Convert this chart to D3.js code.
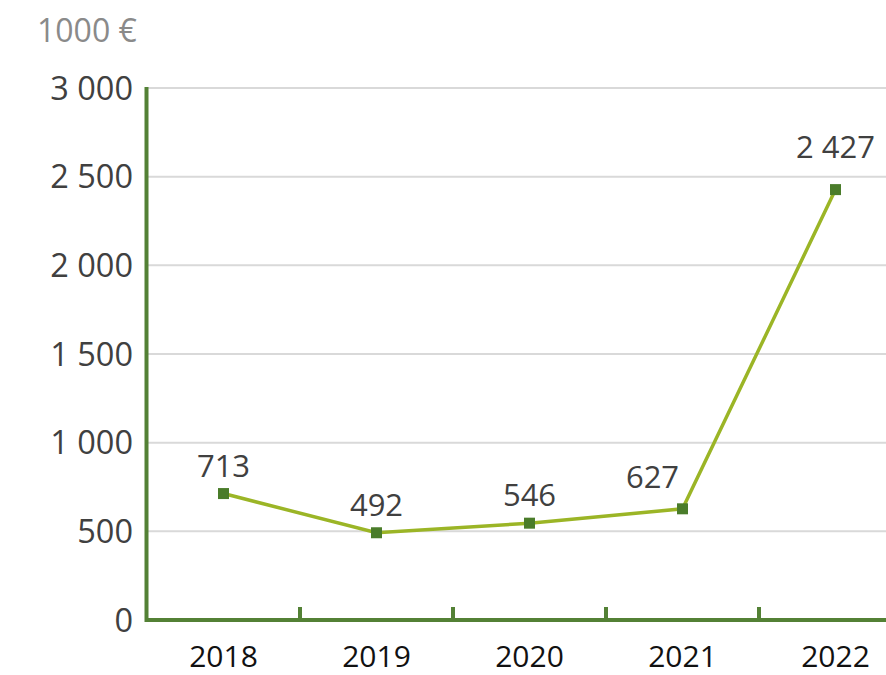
<!DOCTYPE html>
<html>
<head>
<meta charset="utf-8">
<script src="https://cdn.jsdelivr.net/npm/d3@7/dist/d3.min.js"></script>
<style>
  body { margin: 0; background: #fff; }
  text { font-family: "Open Sans", "Noto Sans", sans-serif; }
</style>
</head>
<body>
<div class="chart"></div>
<script>
// data
var years = ["2018", "2019", "2020", "2021", "2022"];
var values = [713, 492, 546, 627, 2427];
var yTicks = [0, 500, 1000, 1500, 2000, 2500, 3000];
var unitLabel = "1000 €";

// label nudges (px) so labels clear the line
var labelDx = [0, 0, 0, -30, 0];
var labelDy = [-17, -17, -17, -21, -32];

var W = 886, H = 675;
var fmt = function(v) { return d3.format(",")(v).replace(/,/g, " "); };

var svg = d3.select(".chart").append("svg")
            .attr("width", W)
            .attr("height", H);

var y = d3.scaleLinear().domain([0, 3000]).range([620, 88]);
var x = d3.scaleBand().domain(years).range([147, 912]);

// gridlines
svg.selectAll(".grid")
   .data(yTicks.filter(function(d) { return d > 0; }))
   .enter()
   .append("line")
   .attr("x1", 147).attr("x2", W)
   .attr("y1", function(d) { return y(d); })
   .attr("y2", function(d) { return y(d); })
   .attr("stroke", "#d9d9d9")
   .attr("stroke-width", 2);

// y labels
svg.selectAll(".ylab")
   .data(yTicks)
   .enter()
   .append("text")
   .attr("x", 133)
   .attr("y", function(d) { return y(d); })
   .attr("dy", "0.36em")
   .attr("text-anchor", "end")
   .attr("fill", "#404040")
   .style("font-size", "32.5px")
   .text(fmt);

svg.append("text")
   .attr("x", 37).attr("y", 42)
   .attr("fill", "#8a8a8a")
   .style("font-size", "32px")
   .text(unitLabel);

// axes
var axisColor = "#538135";
svg.append("line")
   .attr("x1", 146.5).attr("x2", 146.5)
   .attr("y1", 87).attr("y2", 622)
   .attr("stroke", axisColor).attr("stroke-width", 4);
svg.append("line")
   .attr("x1", 145).attr("x2", W)
   .attr("y1", 620).attr("y2", 620)
   .attr("stroke", axisColor).attr("stroke-width", 4);

// category ticks at band boundaries
svg.selectAll(".xtick")
   .data(years.slice(1))
   .enter()
   .append("line")
   .attr("x1", function(d) { return x(d); })
   .attr("x2", function(d) { return x(d); })
   .attr("y1", 607).attr("y2", 620)
   .attr("stroke", axisColor).attr("stroke-width", 4);

svg.selectAll(".xlab")
   .data(years)
   .enter()
   .append("text")
   .attr("x", function(d) { return x(d) + x.bandwidth() / 2; })
   .attr("y", 667)
   .attr("text-anchor", "middle")
   .attr("fill", "#111")
   .style("font-size", "30px")
   .text(function(d) { return d; });

// line + markers
var cx = function(d, i) { return x(years[i]) + x.bandwidth() / 2; };
var line = d3.line()
             .x(cx)
             .y(function(d) { return y(d); });

svg.append("path")
   .datum(values)
   .attr("d", line)
   .attr("fill", "none")
   .attr("stroke", "#9bb526")
   .attr("stroke-width", 3.5);

svg.selectAll(".mark")
   .data(values)
   .enter()
   .append("rect")
   .attr("x", function(d, i) { return cx(d, i) - 5.5; })
   .attr("y", function(d) { return y(d) - 5.5; })
   .attr("width", 11).attr("height", 11)
   .attr("fill", "#4a7c2a");

svg.selectAll(".vlab")
   .data(values)
   .enter()
   .append("text")
   .attr("x", function(d, i) { return cx(d, i) + labelDx[i]; })
   .attr("y", function(d, i) { return y(d) + labelDy[i]; })
   .attr("text-anchor", "middle")
   .attr("fill", "#404040")
   .style("font-size", "31px")
   .text(fmt);
</script>
</body>
</html>
